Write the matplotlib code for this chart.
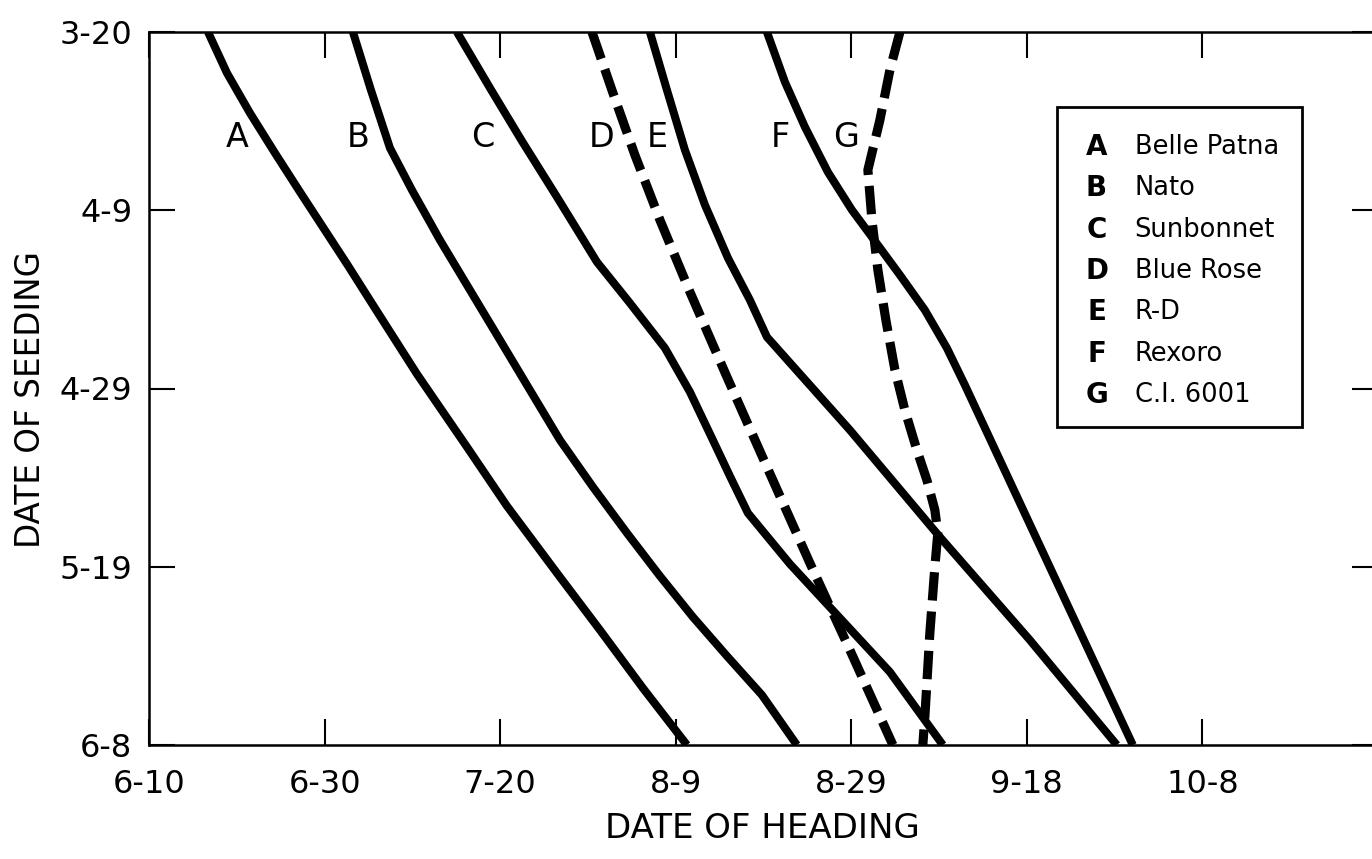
import numpy as np
import matplotlib.pyplot as plt
from matplotlib.patches import Rectangle

# Оси: дни после 6-10 (дата выколашивания) и дни после 3-20 (дата посева)
x_ticks = [0, 20, 40, 60, 80, 100, 120]
x_tick_labels = ["6-10", "6-30", "7-20", "8-9", "8-29", "9-18", "10-8"]
y_ticks = [0, 20, 40, 60, 80]
y_tick_labels = ["3-20", "4-9", "4-29", "5-19", "6-8"]

keys = ["A", "B", "C", "D", "E", "F", "G"]
names = ["Belle Patna", "Nato", "Sunbonnet", "Blue Rose", "R-D", "Rexoro", "C.I. 6001"]

# Кривые
a_heading = [6.72, 8.88, 11.50, 14.35, 17.20, 22.55, 26.31, 30.52, 36.22, 40.77,
             46.81, 51.37, 56.26, 61.28]
a_seeding = [0, 4.60, 9.09, 13.58, 17.95, 26.03, 31.87, 38.37, 46.56, 53.18,
             61.15, 67.10, 73.61, 80]

b_heading = [23.23, 25.28, 27.45, 29.95, 33.14, 36.56, 39.98, 43.39, 46.81, 50.57,
             54.44, 58.20, 61.96, 65.83, 69.82, 73.80]
b_seeding = [0, 6.51, 13.02, 17.73, 23.34, 28.95, 34.56, 40.17, 45.78, 51.05,
             56.21, 61.04, 65.64, 70.01, 74.39, 80]

c_heading = [35.08, 38.84, 42.48, 46.47, 51.03, 54.78, 58.77, 61.62, 64.12, 66.17,
             68.22, 73.01, 78.70, 84.40, 90.43]
c_seeding = [0, 6.28, 12.23, 18.51, 25.81, 30.41, 35.46, 40.39, 45.55, 49.82,
             53.97, 59.69, 65.75, 71.81, 80]

d_heading = [50.46, 52.73, 55.35, 58.20, 61.62, 65.83, 70.39, 75.28, 79.84, 84.74]
d_seeding = [0, 6.51, 13.80, 21.09, 29.17, 38.70, 48.80, 59.58, 69.34, 80]

e_heading = [57.06, 59.00, 61.05, 63.33, 65.95, 68.45, 70.39, 79.84, 90.09, 100.34, 110.25]
e_seeding = [0, 6.51, 13.24, 19.41, 25.36, 30.07, 34.22, 44.66, 56.66, 68.22, 80]

f_heading = [70.39, 72.44, 74.72, 77.33, 80.07, 82.69, 85.54, 88.38, 90.89, 92.94, 112.07]
f_seeding = [0, 5.61, 10.66, 15.71, 19.97, 23.45, 27.27, 31.20, 35.46, 39.61, 80]

g_heading = [85.54, 84.40, 83.26, 81.89, 82.35, 83.03, 83.94, 84.97, 86.10, 87.47,
             88.61, 89.52, 89.86, 89.52, 88.95, 88.38, 88.15]
g_seeding = [0, 4.26, 9.87, 15.48, 21.09, 26.70, 32.31, 37.92, 42.41, 46.90,
             50.27, 53.63, 56.21, 60.03, 67.43, 76.86, 80]

headings = [a_heading, b_heading, c_heading, d_heading, e_heading, f_heading, g_heading]
seedings = [a_seeding, b_seeding, c_seeding, d_seeding, e_seeding, f_seeding, g_seeding]

# Положение букв-подписей у кривых
label_x = [10.0, 23.8, 38.0, 51.6, 57.9, 71.9, 79.4]
label_y = 11.8

fig = plt.figure(figsize=(13.72, 8.59), dpi=100)
ax = fig.add_axes([149 / 1372, 114 / 859, 1229 / 1372, 713 / 859])

for key, xs, ys in zip(keys, headings, seedings):
    if key in ("D", "G"):
        ax.plot(xs, ys, color="black", lw=6.6, dashes=(3.1, 1.2),
                dash_capstyle="butt", dash_joinstyle="round")
    else:
        ax.plot(xs, ys, color="black", lw=5.8, solid_capstyle="butt",
                solid_joinstyle="round")

for key, lx in zip(keys, label_x):
    ax.text(lx, label_y, key, fontsize=24, ha="center", va="center")

ax.set_xlim(0, 140)
ax.set_ylim(80, 0)
ax.set_xticks(x_ticks)
ax.set_xticklabels(x_tick_labels, fontsize=23)
ax.set_yticks(y_ticks)
ax.set_yticklabels(y_tick_labels, fontsize=23)
ax.tick_params(axis="both", direction="in", length=19, width=1.5,
               top=True, right=True)
ax.tick_params(axis="x", pad=17)
ax.tick_params(axis="y", pad=12)
for side in ["left", "top", "bottom"]:
    ax.spines[side].set_linewidth(1.8)
ax.spines["right"].set_visible(False)

# Подписи осей
fig.text(762 / 1372, 1 - 828 / 859, "DATE OF HEADING", fontsize=24.5,
         ha="center", va="center")
fig.text(31 / 1372, 1 - 400 / 859, "DATE OF SEEDING", fontsize=23.5,
         rotation=90, ha="center", va="center")

# Легенда в рамке
ax.add_patch(Rectangle((0.739, 0.446), 0.199, 0.449, transform=ax.transAxes,
                       fill=False, lw=2, edgecolor="black"))
row_y = np.linspace(0.839, 0.491, len(keys))
for key, name, ry in zip(keys, names, row_y):
    ax.text(0.771, ry, key, transform=ax.transAxes, fontsize=20,
            fontweight="bold", ha="center", va="center")
    ax.text(0.802, ry, name, transform=ax.transAxes, fontsize=18.5,
            ha="left", va="center")

fig.savefig("out.png", dpi=100)
